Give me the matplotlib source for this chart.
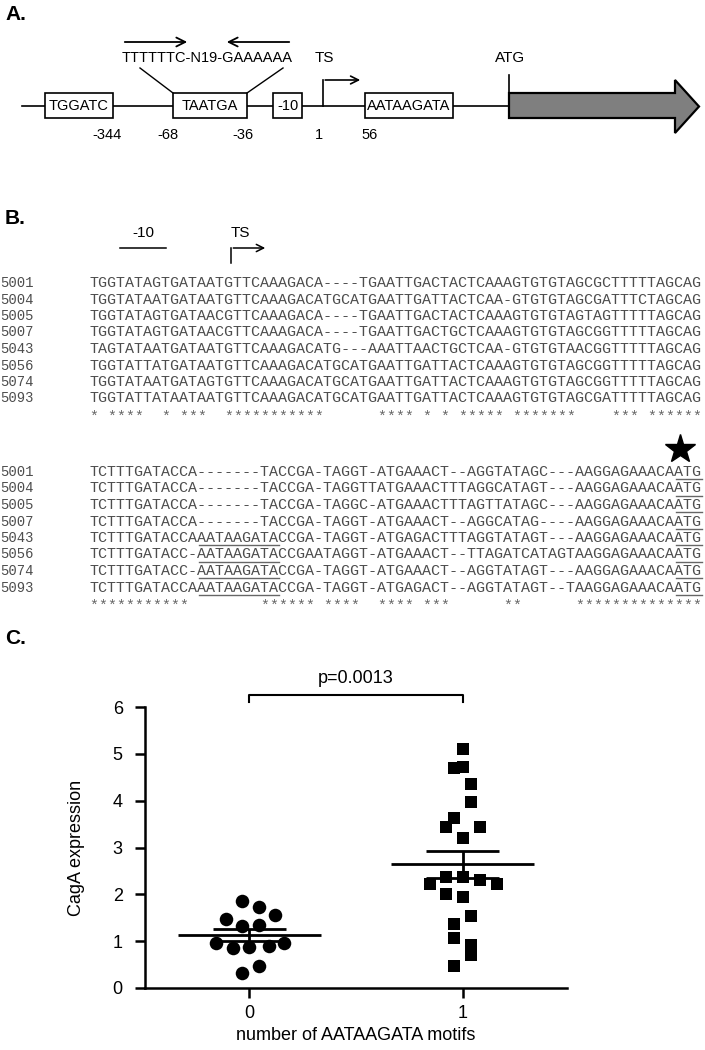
import matplotlib
matplotlib.use("Agg")
import matplotlib.pyplot as plt
import numpy as np
from matplotlib.patches import Rectangle, Polygon

plt.rcParams['font.family'] = ['Liberation Sans', 'DejaVu Sans']

# ---- panel A data
box_labels = ["TGGATC", "TAATGA", "-10", "AATAAGATA"]
pos_labels = ["-344", "-68", "-36", "1", "56"]
motif_text = "TTTTTTC-N19-GAAAAAA"

# ---- panel B data
strains = ["5001", "5004", "5005", "5007", "5043", "5056", "5074", "5093"]
block1 = [
    "TGGTATAGTGATAATGTTCAAAGACA----TGAATTGACTACTCAAAGTGTGTAGCGCTTTTTAGCAG",
    "TGGTATAATGATAATGTTCAAAGACATGCATGAATTGATTACTCAA-GTGTGTAGCGATTTCTAGCAG",
    "TGGTATAGTGATAACGTTCAAAGACA----TGAATTGACTACTCAAAGTGTGTAGTAGTTTTTAGCAG",
    "TGGTATAGTGATAACGTTCAAAGACA----TGAATTGACTGCTCAAAGTGTGTAGCGGTTTTTAGCAG",
    "TAGTATAATGATAATGTTCAAAGACATG---AAATTAACTGCTCAA-GTGTGTAACGGTTTTTAGCAG",
    "TGGTATTATGATAATGTTCAAAGACATGCATGAATTGATTACTCAAAGTGTGTAGCGGTTTTTAGCAG",
    "TGGTATAATGATAGTGTTCAAAGACATGCATGAATTGATTACTCAAAGTGTGTAGCGGTTTTTAGCAG",
    "TGGTATTATAATAATGTTCAAAGACATGCATGAATTGATTACTCAAAGTGTGTAGCGATTTTTAGCAG",
]
stars1 = "* ****  * ***  ***********      **** * * ***** *******    *** ******"
block2 = [
    "TCTTTGATACCA-------TACCGA-TAGGT-ATGAAACT--AGGTATAGC---AAGGAGAAACAATG",
    "TCTTTGATACCA-------TACCGA-TAGGTTATGAAACTTTAGGCATAGT---AAGGAGAAACAATG",
    "TCTTTGATACCA-------TACCGA-TAGGC-ATGAAACTTTAGTTATAGC---AAGGAGAAACAATG",
    "TCTTTGATACCA-------TACCGA-TAGGT-ATGAAACT--AGGCATAG----AAGGAGAAACAATG",
    "TCTTTGATACCAAATAAGATACCGA-TAGGT-ATGAGACTTTAGGTATAGT---AAGGAGAAACAATG",
    "TCTTTGATACC-AATAAGATACCGAATAGGT-ATGAAACT--TTAGATCATAGTAAGGAGAAACAATG",
    "TCTTTGATACC-AATAAGATACCGA-TAGGT-ATGAAACT--AGGTATAGT---AAGGAGAAACAATG",
    "TCTTTGATACCAAATAAGATACCGA-TAGGT-ATGAGACT--AGGTATAGT--TAAGGAGAAACAATG",
]
stars2 = "***********        ****** ****  **** ***      **      **************"

# ---- panel C data
group_ticks = ["0", "1"]
g0_vals = [1.85, 1.73, 1.56, 1.47, 1.33, 1.35, 0.96, 0.85, 0.87, 0.89, 0.97, 0.48, 0.33]
g0_jit = [-0.035, 0.045, 0.12, -0.11, -0.035, 0.045, -0.155, -0.075, 0.0, 0.09, 0.16, 0.045, -0.035]
g1_vals = [5.11, 4.72, 4.69, 4.35, 3.98, 3.62, 3.43, 3.43, 3.20, 2.38, 2.37, 2.30, 2.22, 2.22,
           2.01, 1.94, 1.53, 1.37, 1.07, 0.92, 0.71, 0.46]
g1_jit = [0.0, 0.0, -0.04, 0.04, 0.04, -0.04, -0.08, 0.08, 0.0, -0.08, 0.0, 0.08, -0.155, 0.16,
          -0.08, 0.0, 0.04, -0.04, -0.04, 0.04, 0.04, -0.04]
p_text = "p=0.0013"

W, H = 705, 1050
fig = plt.figure(figsize=(W / 100, H / 100), dpi=100)

# overlay in pixel coords for the diagram panels
ov = fig.add_axes([0, 0, 1, 1])
ov.set_xlim(0, W)
ov.set_ylim(H, 0)
ov.axis('off')

# ---------------- A ----------------
ov.text(5, 15, "A.", fontsize=15, fontweight='bold', va='center')
ov.plot([22, 509], [106, 106], color='black', lw=1.2)
box_x = [(45, 113), (173, 247), (273, 302), (365, 453)]
for (x0, x1), lab in zip(box_x, box_labels):
    ov.add_patch(Rectangle((x0, 93), x1 - x0, 25, facecolor='white', edgecolor='black', lw=1.2, zorder=3))
    ov.text((x0 + x1) / 2, 106, lab, ha='center', va='center', fontsize=10.5, zorder=4)
pos_x = [107, 168, 243, 319, 370]
for x, lab in zip(pos_x, pos_labels):
    ov.text(x, 135, lab, ha='center', va='center', fontsize=10.5)
ov.text(207, 58, motif_text, ha='center', va='center', fontsize=10.5)
ov.annotate('', xy=(190, 42), xytext=(122, 42),
            arrowprops=dict(arrowstyle='->', lw=1.3, mutation_scale=16))
ov.annotate('', xy=(224, 42), xytext=(292, 42),
            arrowprops=dict(arrowstyle='->', lw=1.3, mutation_scale=16))
ov.plot([140, 173], [68, 93], color='black', lw=1)
ov.plot([283, 247], [68, 93], color='black', lw=1)
# TS bent arrow
ov.text(324, 58, "TS", ha='center', va='center', fontsize=11)
ov.plot([323, 323], [106, 80], color='black', lw=1.2)
ov.annotate('', xy=(363, 80), xytext=(322.4, 80),
            arrowprops=dict(arrowstyle='->', lw=1.2, mutation_scale=14))
# ATG + gene arrow
ov.text(510, 58, "ATG", ha='center', va='center', fontsize=11)
ov.plot([509, 509], [75, 106], color='black', lw=1.2)
ov.add_patch(Polygon([(509, 93), (675, 93), (675, 80), (699, 106.5), (675, 133), (675, 118), (509, 118)],
                     closed=True, facecolor='#7f7f7f', edgecolor='black', lw=1.6))

# ---------------- B ----------------
ov.text(5, 218, "B.", fontsize=15, fontweight='bold', va='center')
ov.text(143, 233, "-10", ha='center', va='center', fontsize=11)
ov.plot([120, 166], [248, 248], color='black', lw=1.1)
ov.text(240, 233, "TS", ha='center', va='center', fontsize=11)
ov.plot([231, 231], [263, 248], color='black', lw=1.1)
ov.annotate('', xy=(268, 248), xytext=(230.5, 248),
            arrowprops=dict(arrowstyle='->', lw=1.1, mutation_scale=13))

seq_x0 = 90
cw = 9.0                       # px per character
mono = 'Liberation Mono'
fs_seq = cw / 0.6 * 72 / 100   # font size giving cw px advance
row_h = 16.5
seq_col = '#4d4d4d'


def draw_block(y0, seqs, stars, underline_motif):
    for i, (name, s) in enumerate(zip(strains, seqs)):
        yb = y0 + i * row_h + 4
        ov.text(0, yb, name, family=mono, fontsize=fs_seq * 0.93, color=seq_col, va='baseline')
        ov.text(seq_x0, yb, s, family=mono, fontsize=fs_seq, color=seq_col, va='baseline')
        if underline_motif:
            # ATG start codon
            a = s.rfind("ATG")
            ov.plot([seq_x0 + a * cw + 0.5, seq_x0 + (a + 3) * cw], [yb + 3, yb + 3], color='#666666', lw=1)
            m = s.find("AATAAGATA")
            if m >= 0:
                ov.plot([seq_x0 + m * cw + 0.5, seq_x0 + (m + 9) * cw], [yb + 3, yb + 3], color='#666666', lw=1)
    yb = y0 + len(seqs) * row_h + 6
    ov.text(seq_x0, yb, stars, family=mono, fontsize=fs_seq, color='#666666', va='baseline')


draw_block(283, block1, stars1, False)
draw_block(472, block2, stars2, True)
atg_col = block2[0].rfind("ATG")
ov.plot([seq_x0 + (atg_col + 0.5) * cw], [449], marker='*', markersize=22, color='black')

# ---------------- C ----------------
ov.text(5, 638, "C.", fontsize=15, fontweight='bold', va='center')

ax = fig.add_axes([145 / W, 1 - 988 / H, (567 - 145) / W, (988 - 707) / H])
ax.patch.set_alpha(0)
g0_x = [0 + j for j in g0_jit]
g1_x = [1 + j for j in g1_jit]
ax.scatter(g0_x, g0_vals, s=95, marker='o', color='black', zorder=3, linewidths=0)
ax.scatter(g1_x, g1_vals, s=80, marker='s', color='black', zorder=3, linewidths=0)
for xc, vals in [(0, g0_vals), (1, g1_vals)]:
    v = np.array(vals)
    m = v.mean()
    sem = v.std(ddof=1) / np.sqrt(len(v))
    ax.hlines(m, xc - 0.335, xc + 0.335, color='black', lw=2, zorder=4)
    ax.vlines(xc, m - sem, m + sem, color='black', lw=2, zorder=4)
    ax.hlines([m - sem, m + sem], xc - 0.17, xc + 0.17, color='black', lw=2, zorder=4)

ax.set_xlim(-0.49, 1.49)
ax.set_ylim(0, 6)
ax.set_xticks([0, 1])
ax.set_xticklabels(group_ticks)
ax.set_yticks(range(0, 7))
for sp in ['top', 'right']:
    ax.spines[sp].set_visible(False)
for sp in ['left', 'bottom']:
    ax.spines[sp].set_linewidth(1.8)
ax.tick_params(axis='both', direction='out', length=7, width=1.8, labelsize=13)
ax.tick_params(axis='y', pad=9)
ax.tick_params(axis='x', pad=5)
ax.set_ylabel("CagA expression", fontsize=13, labelpad=20)
ax.set_xlabel("number of AATAAGATA motifs", fontsize=13, labelpad=4)

ax.plot([0, 0, 1, 1], [6.1, 6.26, 6.26, 6.1], color='black', lw=1.5, clip_on=False)
ax.text(0.5, 6.42, p_text, ha='center', va='bottom', fontsize=13)

fig.savefig("out.png", dpi=100)
